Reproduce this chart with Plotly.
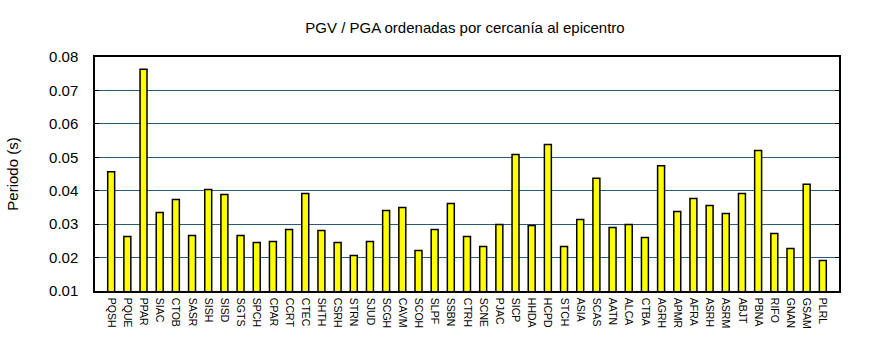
import plotly.graph_objects as go

stations = ["PQSH", "PQUE", "PPAR", "SIAC", "CTOB", "SASR", "SISH", "SISD", "SGTS",
            "SPCH", "CPAR", "CCRT", "CTEC", "SHTH", "CSRH", "STRN", "SJUD", "SCGH",
            "CAVM", "SCOH", "SLPF", "SSBN", "CTRH", "SCNE", "PJAC", "SICP", "HHDA",
            "HCPD", "STCH", "ASIA", "SCAS", "AATN", "ALCA", "CTBA", "AGRH", "APMR",
            "AFRA", "ASRH", "ASRM", "ABJT", "PBNA", "RIFO", "GNAN", "GSAM", "PLRL"]

pgv_pga = [0.0457, 0.0263, 0.0763, 0.0335, 0.0374, 0.0266, 0.0404, 0.0389, 0.0266,
           0.0245, 0.0248, 0.0284, 0.0392, 0.0281, 0.0245, 0.0206, 0.0248, 0.0341,
           0.0350, 0.0221, 0.0284, 0.0362, 0.0263, 0.0233, 0.0299, 0.0508, 0.0296,
           0.0538, 0.0233, 0.0314, 0.0437, 0.0290, 0.0299, 0.0260, 0.0475, 0.0338,
           0.0377, 0.0356, 0.0332, 0.0392, 0.0520, 0.0272, 0.0227, 0.0419, 0.0191]

y_ticks = [0.01, 0.02, 0.03, 0.04, 0.05, 0.06, 0.07, 0.08]

font = "Liberation Sans, Arial, sans-serif"

fig = go.Figure(go.Bar(
    x=list(range(len(stations))),
    y=pgv_pga,
    width=0.43,
    marker=dict(color="#FFFF00", line=dict(color="black", width=1.5)),
))

fig.update_layout(
    width=870, height=350,
    margin=dict(l=95, r=31, t=57, b=59),
    paper_bgcolor="white", plot_bgcolor="white",
    showlegend=False,
    title=dict(text="PGV / PGA ordenadas por cercanía al epicentro",
               x=0.5345, xanchor="center", y=0.922, yanchor="middle",
               font=dict(family=font, size=15, color="black")),
    font=dict(family=font, color="black"),
)

fig.update_xaxes(
    range=[-1, len(stations)],
    tickmode="array",
    tickvals=list(range(len(stations))),
    ticktext=stations,
    tickangle=90,
    tickfont=dict(size=10.5, family="Liberation Sans Narrow, Liberation Sans, Arial, sans-serif"),
    ticklabelstandoff=3,
    showgrid=False,
    showline=True, linecolor="black", linewidth=1.5, mirror=True,
    ticks="",
)

fig.update_yaxes(
    range=[0.01, 0.08],
    tickmode="array",
    tickvals=y_ticks,
    ticktext=[f"{v:.2f}" for v in y_ticks],
    tickfont=dict(size=15),
    ticklabelstandoff=12,
    showgrid=True, gridcolor="#2B5B7B", gridwidth=1.3,
    showline=True, linecolor="black", linewidth=1.5, mirror="allticks",
    ticks="inside", ticklen=4, tickcolor="black",
    title=dict(text="Periodo (s)", font=dict(size=15), standoff=27),
    zeroline=False,
)

fig.write_html("out.html")
